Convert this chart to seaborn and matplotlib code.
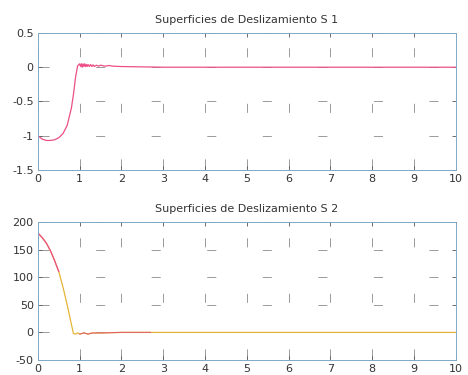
import numpy as np
import pandas as pd
import matplotlib
matplotlib.use("Agg")
import matplotlib.pyplot as plt
import seaborn as sns

# =====================================
# DATA
# =====================================

t1 = [0.0, 0.1, 0.2, 0.3, 0.4, 0.5, 0.6, 0.7, 0.8, 0.85, 0.9, 0.95,
      1.0, 1.02, 1.04, 1.06, 1.08, 1.10, 1.12, 1.14, 1.16, 1.18, 1.2,
      1.23, 1.26, 1.29, 1.32, 1.35, 1.4, 1.45, 1.5, 1.6, 1.7, 1.8,
      2.0, 2.5, 3.0, 10.0]
s1 = [-1.0, -1.05, -1.07, -1.07, -1.06, -1.03, -0.97, -0.85, -0.6, -0.4, -0.15, 0.02,
      0.05, 0.01, 0.05, 0.0, 0.05, 0.01, 0.05, 0.01, 0.04, 0.01, 0.04,
      0.01, 0.04, 0.01, 0.035, 0.01, 0.03, 0.015, 0.03, 0.015, 0.025, 0.015,
      0.01, 0.005, 0.0, 0.0]

t2 = [0.0, 0.1, 0.2, 0.3, 0.4, 0.5, 0.6, 0.7, 0.8, 0.85, 0.9, 0.95,
      1.0, 1.1, 1.2, 1.3, 1.5, 2.0, 2.7, 10.0]
s2 = [180, 172, 162, 148, 130, 110, 82, 50, 15, -2, -3, -1,
      -3, -1, -3, -1, -1, 0, 0, 0]

titles = ["Superficies de Deslizamiento S 1", "Superficies de Deslizamiento S 2"]
xticks = [0, 1, 2, 3, 4, 5, 6, 7, 8, 9, 10]
yticks1 = [-1.5, -1, -0.5, 0, 0.5]
ylabels1 = ["-1.5", "-1", "-0.5", "0", "0.5"]
yticks2 = [-50, 0, 50, 100, 150, 200]
ylabels2 = ["-50", "0", "50", "100", "150", "200"]

PINK = "#ec4f86"
GOLD = "#e6b43a"

# =====================================
# PLOT
# =====================================

sns.set_style("white")
plt.rcParams["font.family"] = ["DejaVu Sans"]

fig = plt.figure(figsize=(4.68, 3.75), dpi=100)
ax1 = fig.add_axes([0.081, 0.547, 0.893, 0.365])
ax2 = fig.add_axes([0.081, 0.040, 0.893, 0.368])

df1 = pd.DataFrame({"t": t1, "s": s1})
df2 = pd.DataFrame({"t": t2, "s": s2})

sns.lineplot(data=df1, x="t", y="s", ax=ax1, color=PINK, linewidth=0.9)
sns.lineplot(data=df2, x="t", y="s", ax=ax2, color=GOLD, linewidth=0.9)
sns.lineplot(data=df2.iloc[:6], x="t", y="s", ax=ax2, color=PINK, linewidth=0.9)
sns.lineplot(data=df2.iloc[12:19], x="t", y="s", ax=ax2, color="#e0506e",
             linewidth=0.8, alpha=0.8)

setup = [(ax1, yticks1, ylabels1, (-1.5, 0.5)),
         (ax2, yticks2, ylabels2, (-50, 200))]

GRID_LW = 0.6
# sparse dashes, as in the scanned MATLAB grid (pattern scaled by linewidth)
grid_dash = (38.5 / GRID_LW, (6.5 / GRID_LW, 33.5 / GRID_LW))

for i, (ax, yt, yl, lim) in enumerate(setup):

    ax.set_xlim(0, 10)
    ax.set_ylim(*lim)
    ax.set_xticks(xticks)
    ax.set_xticklabels([str(x) for x in xticks])
    ax.set_yticks(yt)
    ax.set_yticklabels(yl)
    ax.set_xlabel("")
    ax.set_ylabel("")

    ax.grid(True, color="#8a8a8a", linewidth=GRID_LW, linestyle=grid_dash)
    ax.tick_params(direction="in", length=3, width=0.6, colors="#555555",
                   labelsize=8, labelcolor="#333333",
                   top=True, right=True, bottom=True, left=True, pad=3)

    for sp in ax.spines.values():
        sp.set_color("#7fa8c8")
        sp.set_linewidth(0.7)
        sp.set_linestyle((0, (1, 1)))

    ax.set_title(titles[i], fontsize=8, color="#333333", pad=7)

fig.savefig("out.png", dpi=100)
